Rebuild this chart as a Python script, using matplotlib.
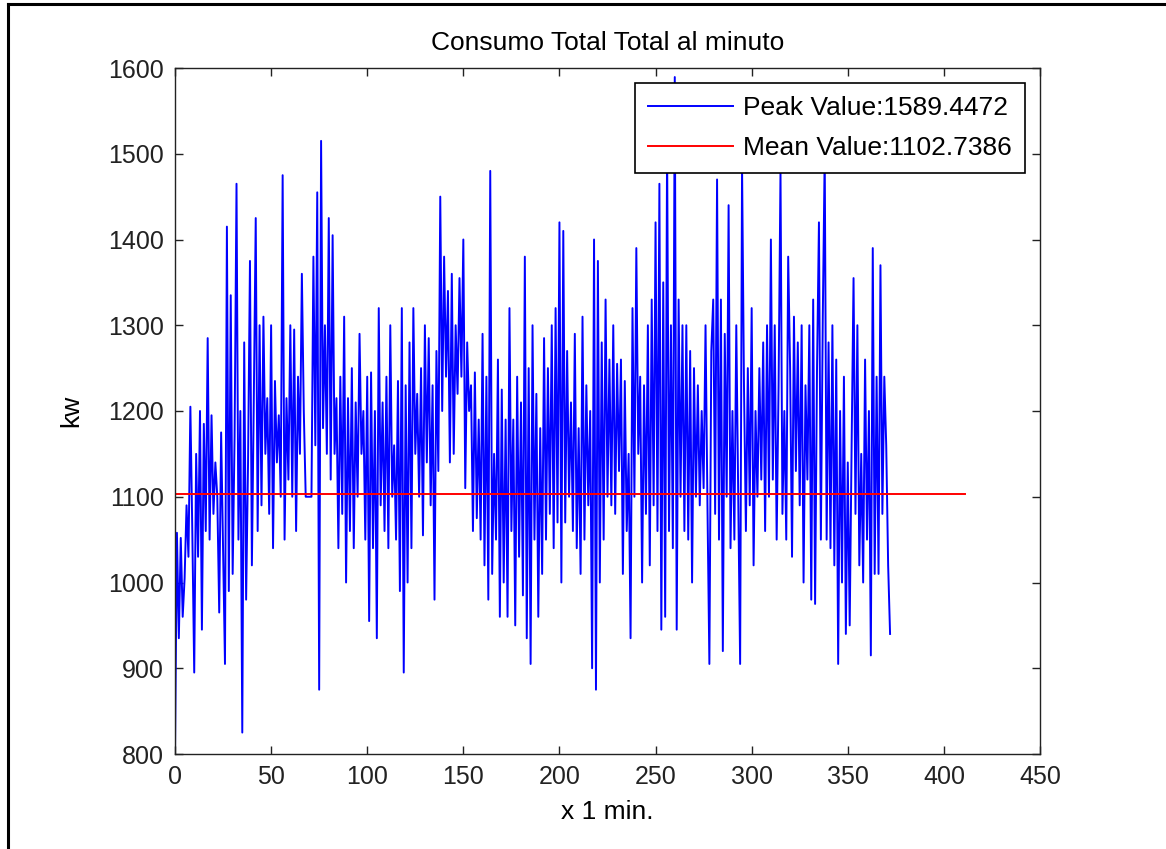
import numpy as np
import matplotlib.pyplot as plt
from matplotlib.lines import Line2D

plt.rcParams['font.family'] = ['Liberation Sans', 'DejaVu Sans']

# consumo por minuto (kw)
consumo = [
    800, 1058, 935, 1052, 960, 1005, 1090, 1030, 1205, 1060,
    895, 1150, 1030, 1200, 945, 1185, 1060, 1285, 1050, 1195,
    1080, 1140, 1100, 965, 1175, 1040, 905, 1415, 990, 1335,
    1010, 1170, 1465, 1050, 1200, 825, 1280, 980, 1140, 1375,
    1020, 1215, 1425, 1060, 1300, 1090, 1310, 1150, 1215, 1080,
    1300, 1040, 1235, 1140, 1195, 1100, 1475, 1050, 1215, 1120,
    1300, 1100, 1295, 1060, 1240, 1150, 1360, 1200, 1100, 1100,
    1100, 1100, 1380, 1160, 1455, 875, 1515, 1180, 1300, 1150,
    1425, 1120, 1405, 1150, 1215, 1040, 1240, 1080, 1310, 1000,
    1215, 1060, 1250, 1040, 1210, 1100, 1290, 1150, 1200, 1050,
    1240, 955, 1245, 1040, 1200, 935, 1320, 1090, 1210, 1060,
    1240, 1040, 1300, 1100, 1160, 1050, 1235, 990, 1320, 895,
    1230, 1000, 1280, 1040, 1320, 1150, 1220, 1100, 1250, 1055,
    1300, 1140, 1285, 1090, 1230, 980, 1270, 1130, 1450, 1200,
    1380, 1240, 1340, 1140, 1360, 1150, 1300, 1220, 1355, 1240,
    1400, 1110, 1280, 1200, 1230, 1060, 1245, 1075, 1190, 1050,
    1290, 1020, 1240, 980, 1480, 1010, 1150, 1050, 1260, 960,
    1225, 1000, 1190, 960, 1320, 1060, 1190, 950, 1240, 1030,
    1210, 985, 1380, 935, 1250, 905, 1300, 1050, 1220, 960,
    1180, 1010, 1285, 1050, 1250, 1080, 1300, 1040, 1320, 1070,
    1420, 1000, 1410, 1070, 1270, 1100, 1210, 1060, 1290, 1040,
    1180, 1010, 1310, 1050, 1230, 1090, 1200, 900, 1400, 875,
    1375, 1000, 1280, 1050, 1330, 1100, 1260, 1090, 1300, 1080,
    1255, 1130, 1260, 1010, 1235, 1060, 1150, 935, 1320, 1100,
    1390, 1150, 1240, 1000, 1230, 1080, 1300, 1020, 1330, 1090,
    1420, 1060, 1465, 945, 1350, 960, 1510, 1060, 1300, 1040,
    1589.4472, 945, 1330, 1100, 1300, 1060, 1300, 1050, 1270, 1000,
    1250, 1100, 1230, 1090, 1200, 1110, 1300, 1090, 905, 1270,
    1330, 1080, 1470, 1050, 1330, 920, 1290, 1100, 1440, 1040,
    1200, 1050, 1300, 1100, 905, 1485, 1230, 1060, 1250, 1090,
    1320, 1020, 1200, 1100, 1250, 1120, 1280, 1060, 1300, 1100,
    1400, 1120, 1300, 1050, 1230, 1480, 1080, 1200, 1050, 1380,
    1250, 1030, 1310, 1130, 1280, 1090, 1300, 1000, 1230, 1120,
    1300, 980, 1330, 975, 1250, 1420, 1050, 1310, 1500, 1050,
    1280, 1040, 1300, 1020, 1260, 905, 1200, 1000, 1240, 940,
    1140, 950, 1160, 1355, 1080, 1300, 1020, 1150, 1000, 1260,
    1050, 1200, 915, 1390, 1010, 1240, 1010, 1370, 1080, 1240,
    1160, 1020, 940,
]
minutos = np.arange(len(consumo))

peak_value = 1589.4472
mean_value = 1102.7386
mean_x = [0, 411]

fig = plt.figure(figsize=(11.66, 8.49), dpi=100)
ax = fig.add_axes([175 / 1166, 95 / 849, 865 / 1166, 686 / 849])

ax.plot(minutos, consumo, color='b', lw=1.4, label='Peak Value:%.4f' % peak_value)
ax.plot(mean_x, [mean_value, mean_value], color='r', lw=1.4, label='Mean Value:%.4f' % mean_value)

ax.set_xlim(0, 450)
ax.set_ylim(800, 1600)
ax.set_xticks(range(0, 451, 50))
ax.set_yticks(range(800, 1601, 100))
ax.tick_params(direction='in', top=True, right=True, length=6, width=1,
               labelsize=18, pad=8, colors='#222222')
for s in ax.spines.values():
    s.set_color('#222222')
    s.set_linewidth(1.0)

ax.set_title('Consumo Total Total al minuto', fontsize=19, pad=13)
ax.set_xlabel('x 1 min.', fontsize=19, labelpad=8)
ax.set_ylabel('kw', fontsize=19, labelpad=18)

leg = ax.legend(loc='upper right', bbox_to_anchor=(0.983, 0.978), fontsize=19,
                frameon=True, fancybox=False, framealpha=1, edgecolor='black',
                borderaxespad=0, handlelength=3.2, handletextpad=0.4,
                labelspacing=0.6, borderpad=0.5)
leg.get_frame().set_linewidth(1.2)

# marco del recorte (izquierda y arriba)
fig.add_artist(Line2D([8 / 1166, 8 / 1166], [0, 1 - 4 / 849], transform=fig.transFigure, color='k', lw=2.2))
fig.add_artist(Line2D([8 / 1166, 1], [1 - 4 / 849, 1 - 4 / 849], transform=fig.transFigure, color='k', lw=2.2))

fig.savefig('out.png', dpi=100)
